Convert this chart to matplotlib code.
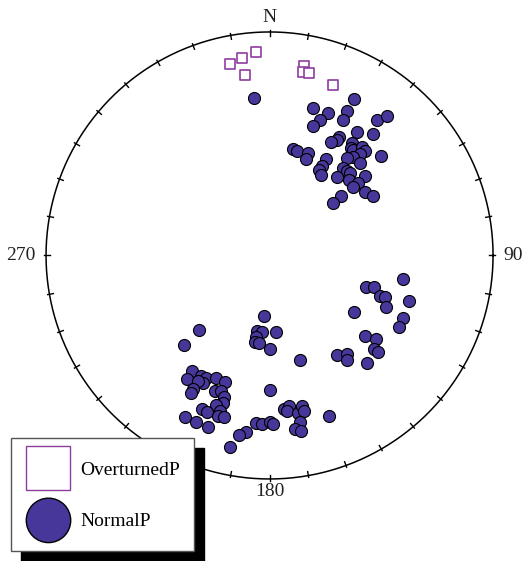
#!/usr/bin/env python3

import matplotlib as mpl
mpl.use("Agg")
import matplotlib.pyplot as plt
from matplotlib.lines import Line2D
from matplotlib.markers import MarkerStyle
from matplotlib.transforms import Affine2D
import numpy as np

mpl.rcParams["font.family"] = "Liberation Serif"

# projected positions (east, north) in units of the primitive circle radius
overturned_x = [-0.177, -0.123, -0.060, -0.110, 0.154, 0.150, 0.177, 0.284]
overturned_y = [0.857, 0.884, 0.911, 0.808, 0.848, 0.821, 0.817, 0.763]

normal_x = [
    # NE cluster
    -0.069, 0.378, 0.195, 0.262, 0.347, 0.226, 0.329, 0.195, 0.481, 0.526,
    0.392, 0.463, 0.311, 0.302, 0.275, 0.105, 0.123, 0.172, 0.163, 0.369,
    0.365, 0.374, 0.414, 0.427, 0.405, 0.499, 0.374, 0.347, 0.405, 0.253,
    0.235, 0.221, 0.230, 0.329, 0.347, 0.360, 0.302, 0.356, 0.427, 0.396,
    0.374, 0.427, 0.463, 0.320, 0.284,
    # SE cluster
    0.597, 0.432, 0.468, 0.494, 0.517, 0.521, 0.624, 0.378, 0.597, 0.579,
    0.427, 0.477, 0.468, 0.485, 0.302, 0.347, 0.347, 0.436,
    # SW cluster
    -0.025, -0.315, -0.383, -0.056, -0.034, 0.029, -0.060, -0.065, -0.047, 0.002,
    0.136, -0.347, -0.369, -0.306, -0.284, -0.298, -0.320, -0.239, -0.199, -0.342,
    -0.351, -0.244, -0.217, -0.204, -0.208, -0.239, -0.221, -0.302, -0.280, -0.230,
    -0.204, -0.378, -0.329, -0.275, 0.002, 0.065, 0.087, 0.078, 0.128, 0.145,
    0.154, 0.136, 0.114, 0.141, 0.266, -0.060, -0.034, 0.002, 0.016, -0.105,
    -0.136, -0.177,
]
normal_y = [
    0.705, 0.700, 0.660, 0.638, 0.647, 0.606, 0.606, 0.579, 0.606, 0.624,
    0.553, 0.544, 0.530, 0.517, 0.508, 0.477, 0.468, 0.459, 0.432, 0.503,
    0.481, 0.472, 0.485, 0.468, 0.454, 0.445, 0.441, 0.436, 0.414, 0.432,
    0.400, 0.383, 0.360, 0.391, 0.378, 0.369, 0.351, 0.338, 0.356, 0.324,
    0.306, 0.284, 0.266, 0.266, 0.235,
    -0.105, -0.141, -0.141, -0.181, -0.186, -0.230, -0.204, -0.253, -0.280, -0.320,
    -0.360, -0.374, -0.418, -0.432, -0.445, -0.441, -0.468, -0.481,
    -0.271, -0.333, -0.400, -0.338, -0.342, -0.342, -0.365, -0.387, -0.391, -0.418,
    -0.468, -0.517, -0.553, -0.539, -0.548, -0.570, -0.562, -0.548, -0.566, -0.597,
    -0.615, -0.606, -0.606, -0.633, -0.660, -0.669, -0.696, -0.687, -0.700, -0.718,
    -0.723, -0.723, -0.745, -0.767, -0.602, -0.687, -0.673, -0.696, -0.705, -0.673,
    -0.696, -0.745, -0.776, -0.785, -0.718, -0.749, -0.754, -0.745, -0.754, -0.790,
    -0.803, -0.857,
]

azimuth_labels = {0: "N", 90: "90", 180: "180", 270: "270"}


def main():
    fig = plt.figure(figsize=(5.23, 5.61), dpi=100)
    ax = fig.add_axes([0, 0, 1, 1])
    ax.set_xlim(-1.206, 1.134)
    ax.set_ylim(-1.367, 1.143)
    ax.set_aspect("equal")
    ax.axis("off")

    # primitive circle
    t = np.linspace(0, 2 * np.pi, 721)
    ax.plot(np.cos(t), np.sin(t), color="black", lw=1.1, zorder=2)

    # 10 degree ticks
    for az in range(0, 360, 10):
        a = np.radians(az)
        ax.plot([0.982 * np.sin(a), 1.008 * np.sin(a)],
                [0.982 * np.cos(a), 1.008 * np.cos(a)],
                color="black", lw=1.0, zorder=2)

    # azimuth labels
    ax.text(0, 1.063, azimuth_labels[0], fontsize=14, ha="center", va="center",
            color="#222222")
    ax.text(0, -1.058, azimuth_labels[180], fontsize=14, ha="center",
            va="center", color="#222222")
    ax.text(1.044, 0, azimuth_labels[90], fontsize=14, ha="left", va="center",
            color="#222222")
    ax.text(-1.045, 0, azimuth_labels[270], fontsize=14, ha="right",
            va="center", color="#222222")

    ax.scatter(overturned_x, overturned_y, s=46, marker="s", facecolor="white",
               edgecolor="#8E3C9E", linewidth=1.2, zorder=3)
    ax.scatter(normal_x, normal_y, s=75, marker="o", facecolor="#47379A",
               edgecolor="black", linewidth=0.8, zorder=3)

    # legend with hard black shadow, big markers nudged a little lower
    shift = Affine2D().translate(0, -0.11)
    handles = [
        Line2D([], [], ls="none", marker=MarkerStyle("s", transform=shift),
               markersize=32, markerfacecolor="white",
               markeredgecolor="#8E3C9E", markeredgewidth=1.0),
        Line2D([], [], ls="none", marker=MarkerStyle("o", transform=shift),
               markersize=32, markerfacecolor="#47379A",
               markeredgecolor="black", markeredgewidth=1.0),
    ]
    leg = fig.legend(handles, ["OverturnedP", "NormalP"], loc="upper left",
                     bbox_to_anchor=(11 / 523, 1 - 438 / 561),
                     borderaxespad=0, fontsize=14, fancybox=False,
                     framealpha=1, edgecolor="#555555",
                     borderpad=0.68, handlelength=2.4, handleheight=2.36,
                     handletextpad=0.5, labelspacing=0.89,
                     shadow={"ox": 7.2, "oy": -7.2, "facecolor": "black",
                             "edgecolor": "black", "alpha": 1})
    leg.get_frame().set_linewidth(1.0)
    leg.set_zorder(5)

    fig.savefig("out.png", dpi=100)
    plt.close()


if __name__ == "__main__":
    main()
